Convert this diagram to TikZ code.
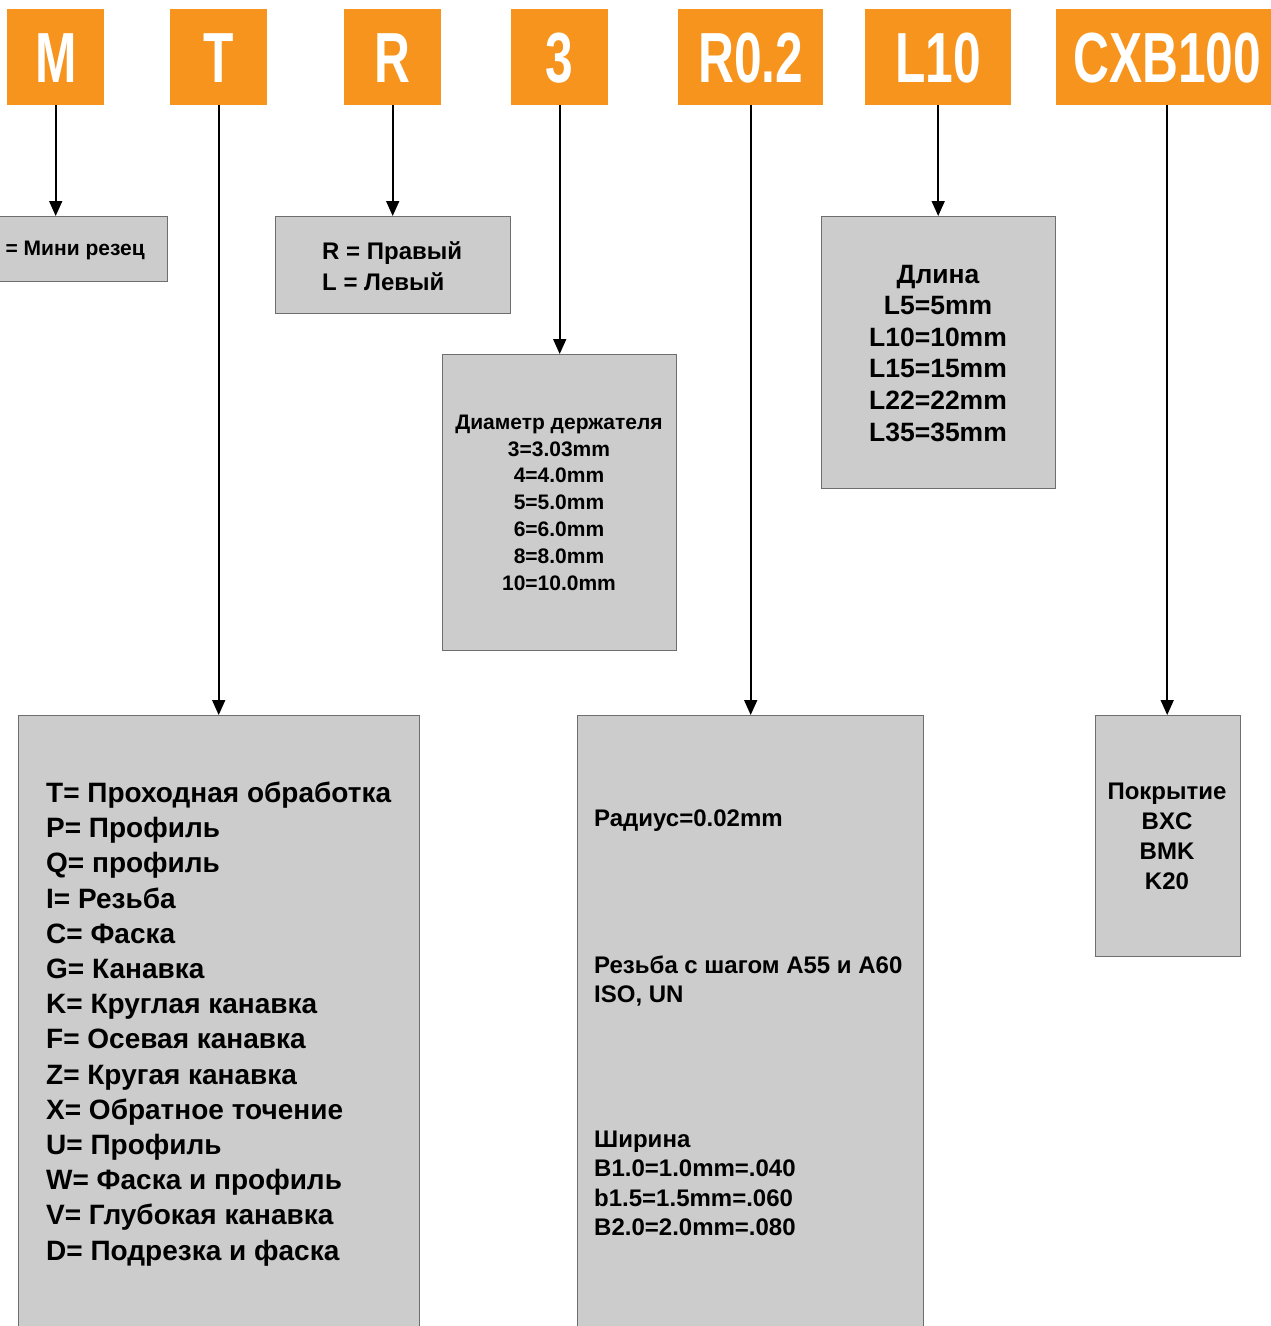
\documentclass[tikz,border=0pt]{standalone}
\usepackage{fontspec}
\setmainfont{Liberation Sans}
\usetikzlibrary{arrows.meta}
\definecolor{codeorange}{HTML}{F7941D}
\definecolor{boxgray}{HTML}{CCCCCC}
\definecolor{boxline}{HTML}{6E6E6E}
\newcommand{\condtxt}[1]{\scalebox{0.7}[1]{#1}}
\begin{document}
\begin{tikzpicture}[x=1pt,y=-1pt,
  codebox/.style={fill=codeorange, draw=none, inner sep=0pt, anchor=north west,
    minimum height=96pt, text=white, text height=51pt, text depth=0pt,
    font=\bfseries\fontsize{71}{71}\selectfont},
  graybox/.style={fill=boxgray, draw=boxline, line width=1.2pt, inner sep=0pt, anchor=north west},
  link/.style={line width=1.7pt, -{Triangle[width=13pt,length=15pt]}},
  txt/.style={inner sep=0pt, text=black}
]
\useasboundingbox (0,0) rectangle (1271,1326);
\clip (0,0) rectangle (1271,1326);

% orange code boxes
\node[codebox, minimum width=97pt]  (oM)  at (7,9)    {\condtxt{M}};
\node[codebox, minimum width=97pt]  (oT)  at (170,9)  {\condtxt{T}};
\node[codebox, minimum width=97pt]  (oR)  at (344,9)  {\condtxt{R}};
\node[codebox, minimum width=97pt]  (o3)  at (511,9)  {\condtxt{3}};
\node[codebox, minimum width=145pt] (oRr) at (678,9)  {\condtxt{R0.2}};
\node[codebox, minimum width=146pt] (oL)  at (865,9)  {\condtxt{L10}};
\node[codebox, minimum width=222pt] (oC)  at (1056,9) {\condtxt{CXB100}};

% gray description boxes
\node[graybox, minimum width=170pt, minimum height=65pt]  (bM)  at (-3,216)  {};
\node[graybox, minimum width=235pt, minimum height=97pt]  (bR)  at (275,216)  {};
\node[graybox, minimum width=234pt, minimum height=296pt] (b3)  at (442,354)  {};
\node[graybox, minimum width=234pt, minimum height=272pt] (bL)  at (821,216)  {};
\node[graybox, minimum width=401pt, minimum height=640pt] (bT)  at (18,715)   {};
\node[graybox, minimum width=346pt, minimum height=640pt] (bRr) at (577,715)  {};
\node[graybox, minimum width=145pt, minimum height=241pt] (bC)  at (1095,715) {};

% connectors
\draw[link] (oM.south)  -- (oM.south  |- bM.north);
\draw[link] (oT.south)  -- (oT.south  |- bT.north);
\draw[link] (oR.south)  -- (oR.south  |- bR.north);
\draw[link] (o3.south)  -- (o3.south  |- b3.north);
\draw[link] (oRr.south) -- (oRr.south |- bRr.north);
\draw[link] (oL.south)  -- (oL.south  |- bL.north);
\draw[link] (oC.south)  -- (oC.south  |- bC.north);

% texts (anchor = baseline of the last line)
\node[txt, anchor=base east, font=\bfseries\fontsize{21}{26}\selectfont] (tM) at (145,255) {= Мини резец};
\node[txt, anchor=base west, align=left, font=\bfseries\fontsize{24}{31}\selectfont] (tR) at (322,290) {R = Правый\\L = Левый};
\node[txt, anchor=base, align=center, font=\bfseries\fontsize{21}{26.8}\selectfont] (t3) at (559,590)
  {Диаметр держателя\\3=3.03mm\\4=4.0mm\\5=5.0mm\\6=6.0mm\\8=8.0mm\\10=10.0mm};
\node[txt, anchor=base, align=center, font=\bfseries\fontsize{26.5}{31.6}\selectfont] (tL) at (938,441)
  {Длина\\L5=5mm\\L10=10mm\\L15=15mm\\L22=22mm\\L35=35mm};
\node[txt, anchor=base west, align=left, font=\bfseries\fontsize{28}{35.2}\selectfont] (tT) at (46,1260)
  {T= Проходная обработка\\P= Профиль\\Q= профиль\\I= Резьба\\C= Фаска\\G= Канавка\\K= Круглая канавка\\F= Осевая канавка\\Z= Кругая канавка\\X= Обратное точение\\U= Профиль\\W= Фаска и профиль\\V= Глубокая канавка\\D= Подрезка и фаска};
\node[txt, anchor=base west, font=\bfseries\fontsize{24}{29}\selectfont] (tRa) at (594,826) {Радиус=0.02mm};
\node[txt, anchor=base west, align=left, font=\bfseries\fontsize{24}{29}\selectfont] (tRb) at (594,1002) {Резьба с шагом A55 и A60\\ISO, UN};
\node[txt, anchor=base west, align=left, font=\bfseries\fontsize{24}{29.5}\selectfont] (tRc) at (594,1235.5) {Ширина\\B1.0=1.0mm=.040\\b1.5=1.5mm=.060\\B2.0=2.0mm=.080};
\node[txt, anchor=base, align=center, font=\bfseries\fontsize{24}{30}\selectfont] (tC) at (1167,889) {Покрытие\\BXC\\BMK\\K20};
\end{tikzpicture}
\end{document}
